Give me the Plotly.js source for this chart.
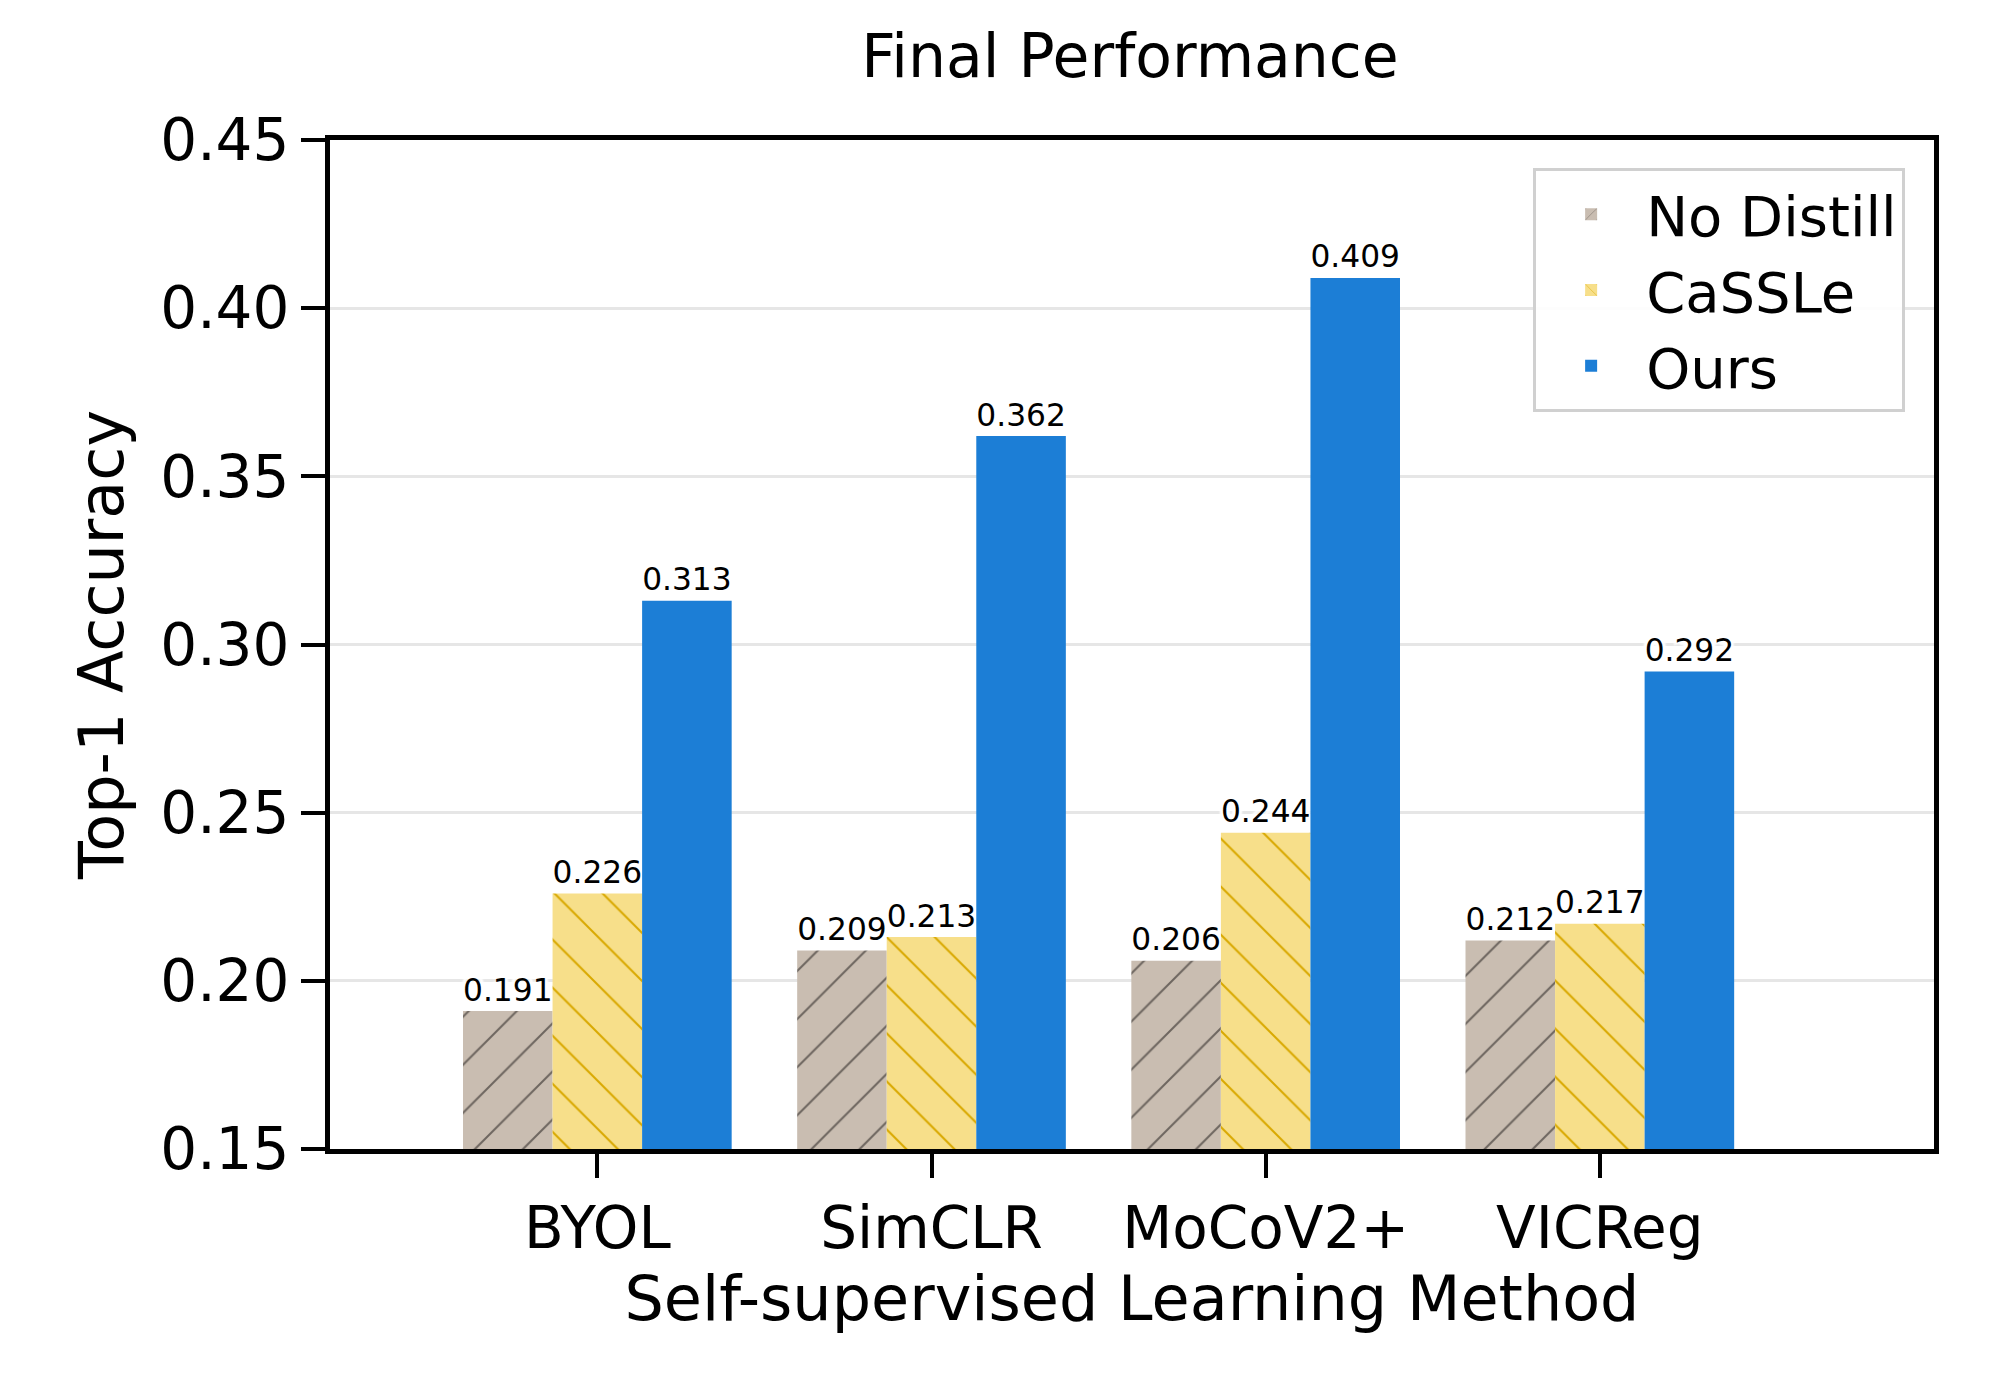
<!DOCTYPE html>
<html>
<head>
<script src="https://cdn.plot.ly/plotly-3.0.1.min.js"></script>
<style>body{margin:0;background:#fff}</style>
</head>
<body>
<div id="chart" style="width:2000px;height:1400px"></div>
<script>
const methods = ['BYOL', 'SimCLR', 'MoCoV2+', 'VICReg'];
const noDistill = [0.191, 0.209, 0.206, 0.212];
const cassle = [0.226, 0.213, 0.244, 0.217];
const ours = [0.313, 0.362, 0.409, 0.292];
const yTicks = [0.15, 0.20, 0.25, 0.30, 0.35, 0.40, 0.45];

const font = 'DejaVu Sans, sans-serif';
const labelFont = { family: font, size: 42, color: '#000', shadow: '3px 3px 2px #fff, -3px -3px 2px #fff, 3px -3px 2px #fff, -3px 3px 2px #fff' };

function makeTrace(name, values, color, pattern) {
  return {
    type: 'bar',
    name: name,
    x: methods,
    y: values,
    text: values.map(v => v.toFixed(3)),
    textposition: 'outside',
    textfont: labelFont,
    cliponaxis: false,
    marker: { color: color, line: { width: 0 }, pattern: pattern },
  };
}

const traces = [
  makeTrace('No Distill', noDistill, '#c9bdb1', { shape: '/', fgcolor: '#6e6660', bgcolor: '#c9bdb1', fillmode: 'replace', size: 34, solidity: 0.06 }),
  makeTrace('CaSSLe', cassle, '#f7df8a', { shape: '\\', fgcolor: '#d9a800', bgcolor: '#f7df8a', fillmode: 'replace', size: 34, solidity: 0.06 }),
  makeTrace('Ours', ours, '#1c7ed6', null),
];

const layout = {
  width: 2000,
  height: 1400,
  margin: { l: 330, r: 66, t: 140, b: 251 },
  paper_bgcolor: '#fff',
  plot_bgcolor: '#fff',
  barmode: 'group',
  bargap: 0.196,
  bargroupgap: 0,
  font: { family: font, size: 60, color: '#000' },
  title: { text: 'Final Performance', font: { size: 60 }, x: 0.565, xanchor: 'center', y: 0.975, yanchor: 'top' },
  xaxis: {
    range: [-0.8, 4.0],
    title: { text: 'Self-supervised Learning Method', font: { size: 62 }, standoff: 2 },
    ticks: 'outside', ticklen: 24, tickwidth: 4, tickcolor: '#000',
    showline: true, linewidth: 5, linecolor: '#000', mirror: true,
    tickfont: { size: 58 },
  },
  yaxis: {
    range: [0.15, 0.45],
    tickvals: yTicks,
    ticktext: yTicks.map(v => v.toFixed(2)),
    title: { text: 'Top-1 Accuracy', font: { size: 62 }, standoff: 18 },
    ticks: 'outside', ticklen: 24, tickwidth: 4, tickcolor: '#000',
    showline: true, linewidth: 5, linecolor: '#000', mirror: true,
    showgrid: true, gridcolor: '#e6e6e6', gridwidth: 3,
    zeroline: false,
    tickfont: { size: 58 },
  },
  legend: {
    x: 0.982, xanchor: 'right', y: 0.972, yanchor: 'top',
    bordercolor: '#d0d0d0', borderwidth: 3, bgcolor: 'rgba(255,255,255,0.9)',
    font: { size: 56 },
    itemwidth: 100,
    tracegroupgap: 12,
  },
};

Plotly.newPlot('chart', traces, layout, { displayModeBar: false });
</script>
</body>
</html>
